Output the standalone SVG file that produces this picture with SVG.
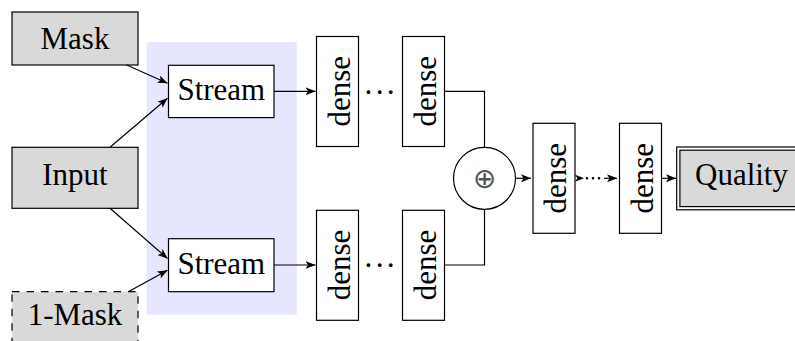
<svg xmlns="http://www.w3.org/2000/svg" width="795" height="341" viewBox="0 0 795 341">
<defs>
<style>
.box{fill:#fff;stroke:#000;stroke-width:1.2}
.gbox{fill:#d9d9d9;stroke:#000;stroke-width:1.2}
.t{font-family:"Liberation Serif","Times New Roman",serif;font-size:31px;fill:#000;text-anchor:middle}
.ln{fill:none;stroke:#000;stroke-width:1.2}
</style>
<marker id="ah" viewBox="0 0 10 8" refX="10" refY="4" markerWidth="10" markerHeight="8" markerUnits="userSpaceOnUse" orient="auto">
<path d="M0,0 L10,4 L0,8 L2.5,4 z" fill="#000"/>
</marker>
</defs>
<rect id="stream-bg" x="146.7" y="42" width="150" height="272.5" fill="#e6e6ff"/>
<g id="mask">
<rect class="gbox" x="12" y="12" width="126" height="53"/>
<text class="t" x="75" y="48.5">Mask</text>
</g>
<g id="input">
<rect class="gbox" x="12" y="147.3" width="126" height="61"/>
<text class="t" x="75" y="185">Input</text>
</g>
<g id="inv-mask">
<rect class="gbox" x="12" y="291.7" width="126" height="53" stroke-dasharray="7.5 7"/>
<text class="t" x="75" y="325">1-Mask</text>
</g>
<g id="stream1">
<rect class="box" x="168.5" y="65.3" width="105.5" height="52.3"/>
<text class="t" x="221.3" y="100">Stream</text>
</g>
<g id="stream2">
<rect class="box" x="168.5" y="238.7" width="105.5" height="53"/>
<text class="t" x="221.3" y="274">Stream</text>
</g>
<g id="dense1a">
<rect class="box" x="316.5" y="36.5" width="42" height="110"/>
<text class="t" transform="translate(349.5,91.3) rotate(-90)">dense</text>
</g>
<g id="dots-a">
<text class="t" x="380" y="102.5" letter-spacing="0.8">···</text>
</g>
<g id="dense2a">
<rect class="box" x="402.5" y="36.5" width="42" height="110"/>
<text class="t" transform="translate(435.5,91.3) rotate(-90)">dense</text>
</g>
<g id="dense1b">
<rect class="box" x="316.5" y="210.3" width="42" height="110"/>
<text class="t" transform="translate(349.5,265) rotate(-90)">dense</text>
</g>
<g id="dots-b">
<text class="t" x="380" y="276.2" letter-spacing="0.8">···</text>
</g>
<g id="dense2b">
<rect class="box" x="402.5" y="210.3" width="42" height="110"/>
<text class="t" transform="translate(435.5,265) rotate(-90)">dense</text>
</g>
<g id="sum">
<circle cx="484.5" cy="178.3" r="31" fill="#fff" stroke="#000" stroke-width="1.2"/>
<text x="484.5" y="187.5" font-family="DejaVu Sans, sans-serif" font-size="28" fill="#555" text-anchor="middle">⊕</text>
</g>
<g id="dense3">
<rect class="box" x="533" y="123.3" width="42" height="110"/>
<text class="t" transform="translate(566,178.3) rotate(-90)">dense</text>
</g>
<g id="dense4">
<rect class="box" x="619.5" y="123.3" width="42" height="110"/>
<text class="t" transform="translate(652.5,178.3) rotate(-90)">dense</text>
</g>
<g id="quality">
<rect x="678.3" y="148.6" width="130" height="59.6" fill="#d9d9d9" stroke="#000" stroke-width="4.4"/>
<rect x="678.3" y="148.6" width="130" height="59.6" fill="none" stroke="#fff" stroke-width="2"/>
<text class="t" x="741.5" y="185">Quality</text>
</g>
<g id="connectors">
<path class="ln" d="M126.7,65 L167.5,83.3" marker-end="url(#ah)"/>
<path class="ln" d="M110,147.3 L167.5,98.2" marker-end="url(#ah)"/>
<path class="ln" d="M110,208.3 L167.5,258.5" marker-end="url(#ah)"/>
<path class="ln" d="M128.3,291.7 L167.5,270.3" marker-end="url(#ah)"/>
<path class="ln" d="M274,91.3 H315.5" marker-end="url(#ah)"/>
<path class="ln" d="M274,265 H315.5" marker-end="url(#ah)"/>
<path class="ln" d="M444.5,91.3 H484.5 V147.3"/>
<path class="ln" d="M444.5,265 H484.5 V209.3"/>
<path class="ln" d="M515.5,178.3 H531" marker-end="url(#ah)"/>
<path d="M575,174.8 L584,178.3 L575,181.8 L577.3,178.3 z" fill="#000"/>
<path d="M587,178.3 H600" fill="none" stroke="#000" stroke-width="2.6" stroke-linecap="round" stroke-dasharray="0 6"/>
<path class="ln" d="M604,178.3 H617" marker-end="url(#ah)"/>
<path class="ln" d="M661.7,178.3 H676" marker-end="url(#ah)"/>
</g>
</svg>
